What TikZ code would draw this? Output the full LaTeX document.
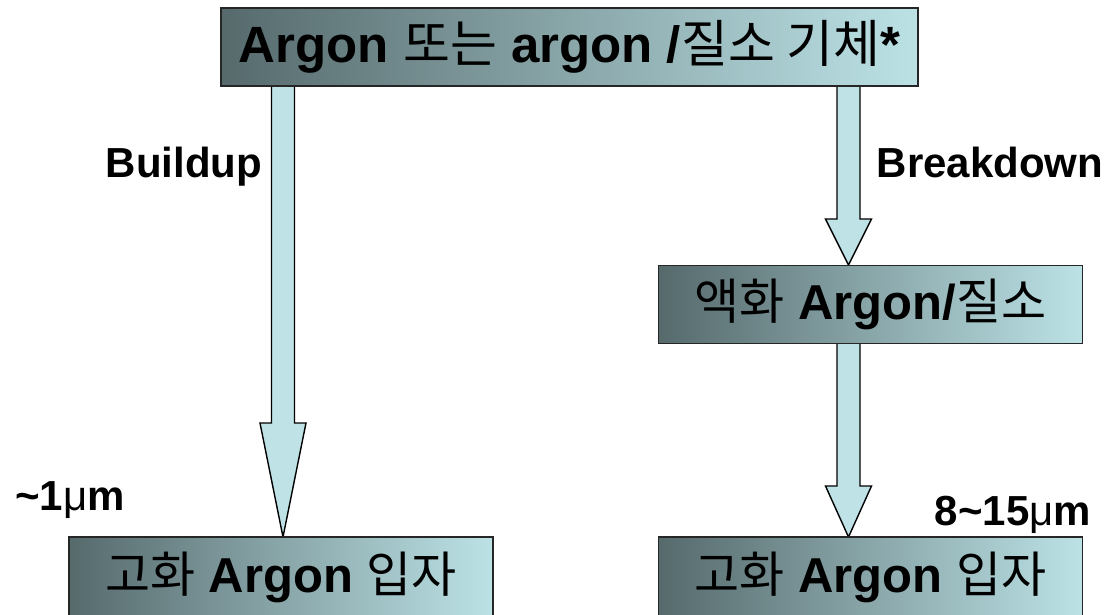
\documentclass[tikz,border=0pt]{standalone}
\usepackage{fontspec}
\setmainfont{Liberation Sans}
\newfontfamily\kr{Noto Sans CJK KR}
\usetikzlibrary{calc}

\definecolor{boxdark}{RGB}{86,106,108}
\definecolor{boxmid}{RGB}{140,172,174}
\definecolor{boxlight}{RGB}{188,226,230}
\definecolor{arrowfill}{RGB}{190,226,230}

\tikzset{
  stagebox/.style={draw=black!85, line width=1.4pt,
    left color=boxdark, middle color=boxmid, right color=boxlight,
    minimum height=78pt, inner sep=0pt, font=\fontsize{49}{52}\selectfont},
  fatarrow/.style={draw=black, line width=1.4pt, fill=arrowfill, line join=miter},
  sidelabel/.style={font=\fontsize{42}{46}\selectfont\bfseries, inner sep=0pt}
}

% block arrow pointing down from #1 to #2, head length #3
\newcommand\blockarrow[3]{%
  \draw[fatarrow] ($(#1)+(-11.5,0)$) -- ($(#2)+(-11.5,-#3)$) -- ($(#2)+(-23,-#3)$)
    -- (#2) -- ($(#2)+(23,-#3)$) -- ($(#2)+(11.5,-#3)$) -- ($(#1)+(11.5,0)$) -- cycle;}

\begin{document}
\begin{tikzpicture}[x=1pt,y=-1pt]
  \useasboundingbox (0,0) rectangle (1106,614);

  % anchor points of the block arrows
  \coordinate (la0) at (283,84);
  \coordinate (la1) at (283,537);
  \coordinate (ra0) at (848.5,84);
  \coordinate (ra1) at (848.5,265);
  \coordinate (rb0) at (848.5,342);
  \coordinate (rb1) at (848.5,537);

  \blockarrow{la0}{la1}{114}
  \blockarrow{ra0}{ra1}{46}
  \blockarrow{rb0}{rb1}{51}

  % process stages
  \node[stagebox, minimum width=697pt, font=\fontsize{51}{54}\selectfont] (gas) at (569.5,47)
    {\textbf{Argon} {\kr 또는} \textbf{argon /}{\kr 질소 기체}\textbf{*}};
  \node[stagebox, minimum width=424pt] (liquid) at (870.5,304.5)
    {{\kr 액화} \textbf{Argon/}{\kr 질소}};
  \node[stagebox, minimum width=424pt, minimum height=80pt] (solidL) at (281,577)
    {{\kr 고화} \textbf{Argon} {\kr 입자}};
  \node[stagebox, minimum width=424pt, minimum height=80pt] (solidR) at (870.5,577)
    {{\kr 고화} \textbf{Argon} {\kr 입자}};

  % route labels and particle sizes
  \node[sidelabel] (buildup) at (184,167) {Buildup};
  \node[sidelabel] (breakdown) at (990,162) {Breakdown};
  \node[sidelabel] (sizeL) at (70,500) {\textasciitilde1{\mdseries μ}m};
  \node[sidelabel] (sizeR) at (1013,515) {8\textasciitilde15{\mdseries μ}m};
\end{tikzpicture}
\end{document}
